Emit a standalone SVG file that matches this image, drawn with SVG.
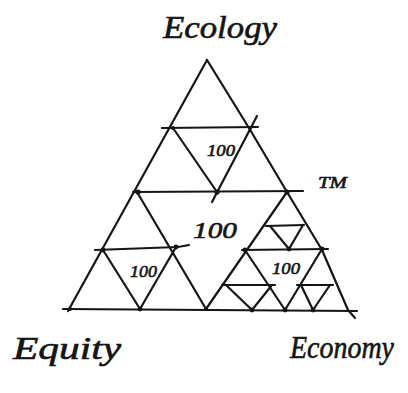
<svg xmlns="http://www.w3.org/2000/svg" width="408" height="393" viewBox="0 0 408 393">
<style>
.ln{fill:none;stroke:#151515;stroke-width:2.2;stroke-linecap:round;stroke-linejoin:round}
.dot{fill:#151515}
.hand{font-family:"Liberation Serif","DejaVu Serif",serif;font-style:italic;fill:#151515;stroke:#151515;stroke-width:0.6}
.num{font-family:"Liberation Serif","DejaVu Serif",serif;font-style:italic;fill:#151515;stroke:#151515;stroke-width:0.6}
</style>
<rect width="408" height="393" fill="#ffffff"/>
<g id="connectors">
  <path class="ln" d="M207,60 L68,311"/>
  <path class="ln" d="M207,60 L249,128 L287,192 L322,250 L348,310 L355,318"/>
  <path class="ln" d="M63,309 L357,311"/>
  <path class="ln" d="M162,128 L258,127"/>
  <path class="ln" d="M173,128 L217,192"/>
  <path class="ln" d="M257,116 L212,202"/>
  <path class="ln" d="M133,192 L303,191"/>
  <path class="ln" d="M137,192 L206,309"/>
  <path class="ln" d="M287,192 L206,309"/>
  <path class="ln" d="M95,250 L178,247 L189,245"/>
  <path class="ln" d="M103,250 L140,309"/>
  <path class="ln" d="M176,247 L140,309"/>
  <path class="ln" d="M242,250 L328,249"/>
  <path class="ln" d="M245,250 L285,310"/>
  <path class="ln" d="M322,249 L285,310"/>
  <path class="ln" d="M266,226 L304,225"/>
  <path class="ln" d="M270,226 L289,249"/>
  <path class="ln" d="M303,225 L289,249"/>
  <path class="ln" d="M222,285 L275,285"/>
  <path class="ln" d="M226,285 L252,310"/>
  <path class="ln" d="M272,285 L252,310"/>
  <path class="ln" d="M297,285 L333,285"/>
  <path class="ln" d="M301,285 L313,310"/>
  <path class="ln" d="M330,285 L313,310"/>
</g>
<g id="dots">
  <circle class="dot" cx="138" cy="192" r="2.6"/>
  <circle class="dot" cx="217" cy="192" r="2.6"/>
  <circle class="dot" cx="287" cy="192" r="2.6"/>
  <circle class="dot" cx="173" cy="128" r="2"/>
  <circle class="dot" cx="250" cy="128" r="2"/>
  <circle class="dot" cx="103" cy="250" r="2.4"/>
  <circle class="dot" cx="176" cy="247" r="2.4"/>
  <circle class="dot" cx="140" cy="309" r="2.4"/>
  <circle class="dot" cx="70" cy="309" r="2"/>
  <circle class="dot" cx="245" cy="250" r="2.4"/>
  <circle class="dot" cx="289" cy="249" r="2.4"/>
  <circle class="dot" cx="322" cy="249" r="2.4"/>
  <circle class="dot" cx="252" cy="310" r="2.4"/>
  <circle class="dot" cx="285" cy="310" r="2.4"/>
  <circle class="dot" cx="313" cy="310" r="2.4"/>
  <circle class="dot" cx="206" cy="309" r="2"/>
</g>
<g id="ecology"><text class="hand" x="163" y="38" font-size="32" textLength="114" lengthAdjust="spacingAndGlyphs">Ecology</text></g>
<g id="equity"><text class="hand" x="13" y="359" font-size="32" textLength="108" lengthAdjust="spacingAndGlyphs">Equity</text></g>
<g id="economy"><text class="hand" x="290" y="358" font-size="32" textLength="104" lengthAdjust="spacingAndGlyphs">Economy</text></g>
<g id="tm"><text class="hand" x="318" y="188" font-size="17" textLength="29" lengthAdjust="spacingAndGlyphs">TM</text></g>
<g id="label-top"><text class="num" x="207" y="156" font-size="16" textLength="28" lengthAdjust="spacingAndGlyphs">100</text></g>
<g id="label-center"><text class="num" x="193" y="238" font-size="24" textLength="44" lengthAdjust="spacingAndGlyphs">100</text></g>
<g id="label-left"><text class="num" x="130" y="277" font-size="17" textLength="27" lengthAdjust="spacingAndGlyphs">100</text></g>
<g id="label-right"><text class="num" x="272" y="274" font-size="17" textLength="28" lengthAdjust="spacingAndGlyphs">100</text></g>
</svg>
